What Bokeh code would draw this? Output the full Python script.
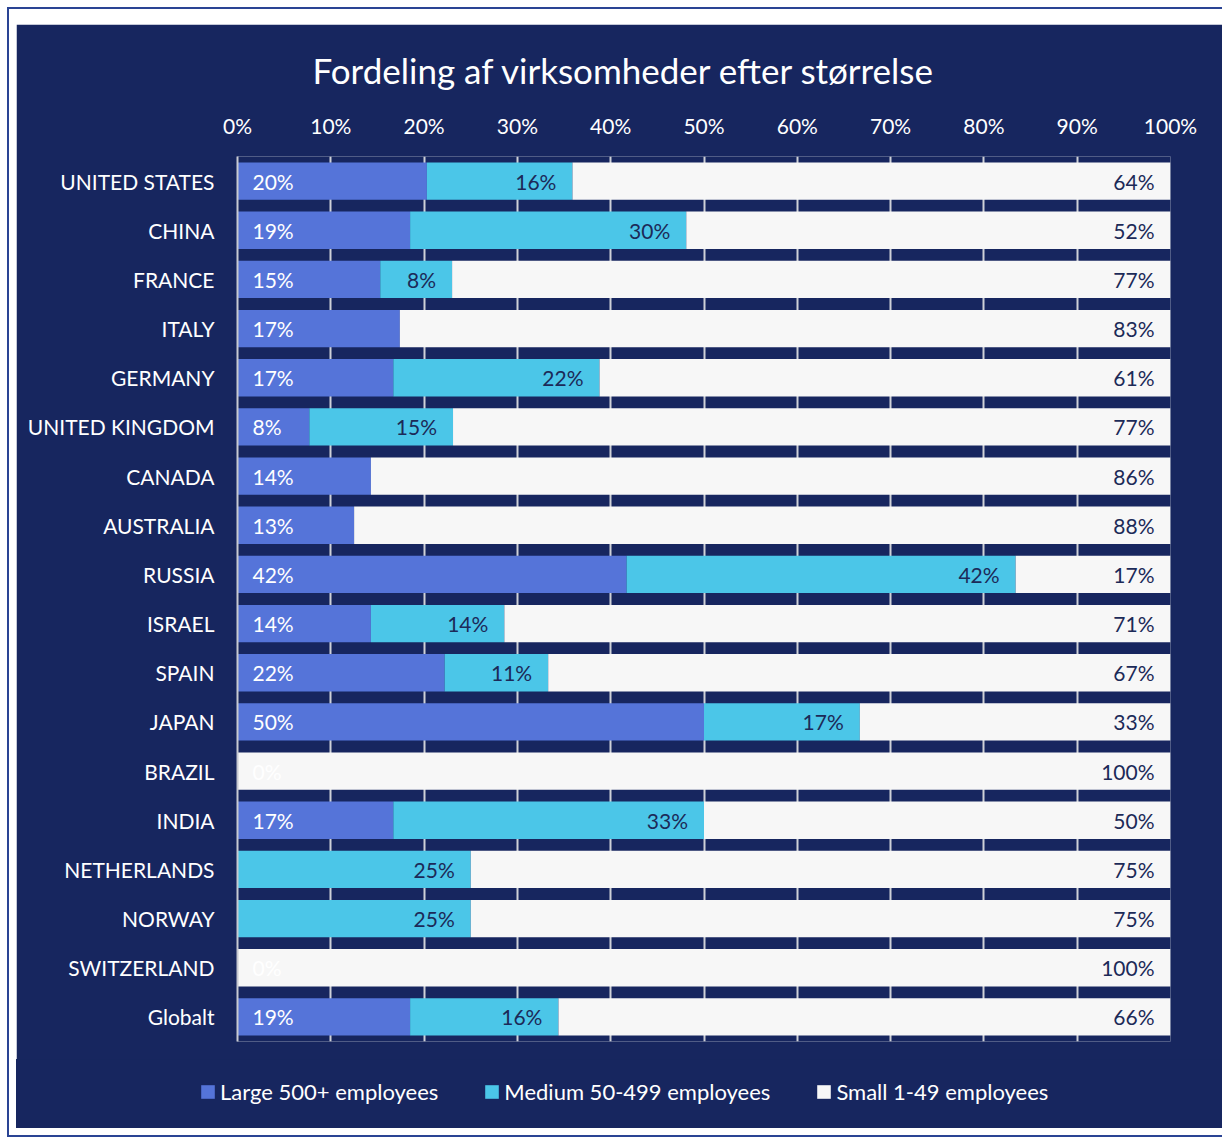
from bokeh.plotting import figure
from bokeh.models import (ColumnDataSource, FactorRange, Range1d, Legend, LegendItem,
                          FixedTicker, Column)
from bokeh.core.properties import value
from bokeh.embed import file_html
from bokeh.resources import INLINE

title_text = "Fordeling af virksomheder efter størrelse"
countries = ["UNITED STATES", "CHINA", "FRANCE", "ITALY", "GERMANY", "UNITED KINGDOM",
             "CANADA", "AUSTRALIA", "RUSSIA", "ISRAEL", "SPAIN", "JAPAN", "BRAZIL",
             "INDIA", "NETHERLANDS", "NORWAY", "SWITZERLAND", "Globalt"]
large = [20.3, 18.5, 15.3, 17.4, 16.7, 7.7, 14.3, 12.5, 41.7, 14.3, 22.2, 50.0,
         0.0, 16.7, None, None, 0.0, 18.5]
medium = [15.6, 29.6, 7.7, None, 22.1, 15.4, None, None, 41.7, 14.3, 11.1, 16.7,
          0.0, 33.3, 25.0, 25.0, 0.0, 15.9]
small = [64.1, 51.9, 77.0, 82.6, 61.2, 76.9, 85.7, 87.5, 16.7, 71.4, 66.7, 33.3,
         100.0, 50.0, 75.0, 75.0, 100.0, 65.6]
series_names = ["Large 500+ employees", "Medium 50-499 employees", "Small 1-49 employees"]
tick_values = [0, 10, 20, 30, 40, 50, 60, 70, 80, 90, 100]
tick_labels = ["0%", "10%", "20%", "30%", "40%", "50%", "60%", "70%", "80%", "90%", "100%"]

NAVY = "#17265f"
C_LARGE = "#5574d9"
C_MED = "#4bc6e8"
C_SMALL = "#f7f7f7"
colors = [C_LARGE, C_MED, C_SMALL]
DARK_TXT = "#1c2a58"
FONT = "Lato"
BORDER = "2px solid #2a4494"


def num(v):
    return 0.0 if v is None else v


def fmt(v):
    return "" if v is None else f"{int(v + 0.5)}%"


src = ColumnDataSource(dict(
    country=countries,
    large=[num(v) for v in large],
    medium=[num(v) for v in medium],
    small=[num(v) for v in small],
    med_end=[num(a) + num(b) for a, b in zip(large, medium)],
    zero=[0] * len(countries),
    full=[100] * len(countries),
    large_lbl=[fmt(v) for v in large],
    medium_lbl=[fmt(v) for v in medium],
    small_lbl=[fmt(v) for v in small],
))

p = figure(width=1206, height=1037, output_backend="svg", toolbar_location=None,
           y_range=FactorRange(*reversed(countries)), x_range=Range1d(0, 100),
           x_axis_location="above",
           min_border_left=221, min_border_right=52, min_border_top=132,
           min_border_bottom=20)
p.background_fill_color = NAVY
p.border_fill_color = NAVY
p.outline_line_color = None

p.title.text = title_text
p.title.text_font = FONT
p.title.text_font_size = "35px"
p.title.text_font_style = "normal"
p.title.text_color = "white"
p.title.align = "left"
p.title.offset = 75
p.title.standoff = 38

rs = p.hbar_stack(["large", "medium", "small"], y="country", height=0.76, source=src,
                  color=colors, line_width=0)

# labels
p.text(x="zero", y="country", text="large_lbl", source=src, x_offset=15,
       text_align="left", text_baseline="middle", text_color="white",
       text_font=value(FONT), text_font_size="21px")
p.text(x="med_end", y="country", text="medium_lbl", source=src, x_offset=-16,
       text_align="right", text_baseline="middle", text_color=DARK_TXT,
       text_font=value(FONT), text_font_size="21px")
p.text(x="full", y="country", text="small_lbl", source=src, x_offset=-16,
       text_align="right", text_baseline="middle", text_color=DARK_TXT,
       text_font=value(FONT), text_font_size="21px")

# axes
p.xaxis.ticker = FixedTicker(ticks=tick_values)
p.xaxis.major_label_overrides = {t: l for t, l in zip(tick_values, tick_labels)}
p.xaxis.axis_line_color = None
p.xaxis.major_tick_line_color = None
p.xaxis.minor_tick_line_color = None
p.xaxis.major_label_text_font = FONT
p.xaxis.major_label_text_font_size = "21px"
p.xaxis.major_label_text_color = "white"
p.xaxis.major_label_standoff = 13

p.yaxis.axis_line_color = "#c8cad2"
p.yaxis.axis_line_width = 2
p.yaxis.major_tick_line_color = None
p.yaxis.minor_tick_line_color = None
p.yaxis.major_label_text_font = FONT
p.yaxis.major_label_text_font_size = "21px"
p.yaxis.major_label_text_color = "white"
p.yaxis.major_label_standoff = 17

p.xgrid.grid_line_color = "#cfd1d8"
p.xgrid.grid_line_width = 2
p.ygrid.grid_line_color = None

# legend strip (second navy figure whose frame covers the whole strip)
pl = figure(width=1206, height=69, output_backend="svg", toolbar_location=None,
            x_axis_location=None, y_axis_location=None,
            x_range=Range1d(1, 2), y_range=Range1d(1, 2),
            min_border_left=0, min_border_right=0, min_border_top=0, min_border_bottom=0)
pl.background_fill_color = NAVY
pl.border_fill_color = NAVY
pl.outline_line_color = None
pl.grid.visible = False
# legend swatches: one off-screen zero-width bar per series, coloured like the series
leg_rs = [pl.hbar(y=[0], left=[0], right=[0], height=0.5, color=c, line_width=0)
          for c in colors]
legend = Legend(items=[LegendItem(label=n, renderers=[r]) for n, r in zip(series_names, leg_rs)],
                orientation="horizontal", location=(183, 23),
                glyph_width=17, glyph_height=17, label_standoff=4, spacing=45,
                padding=0, margin=0, background_fill_alpha=0, border_line_alpha=0,
                label_text_font=FONT, label_text_font_size="22px",
                label_text_color="white")
pl.add_layout(legend, "center")

top = Column(p, styles={"border": BORDER, "border-right": "none", "border-bottom": "none",
                        "padding": "15px 0px 0px 7px", "margin": "7px 0px 0px 7px",
                        "background-color": "white"})
bottom = Column(pl, styles={"border-left": BORDER, "border-bottom": BORDER,
                            "padding": "0px 0px 7px 7px", "margin": "-2px 0px 0px 7px",
                            "background-color": NAVY, "background-clip": "content-box",
                            "position": "relative", "z-index": "5"})

open("out.html", "w").write(file_html([top, bottom], INLINE))
